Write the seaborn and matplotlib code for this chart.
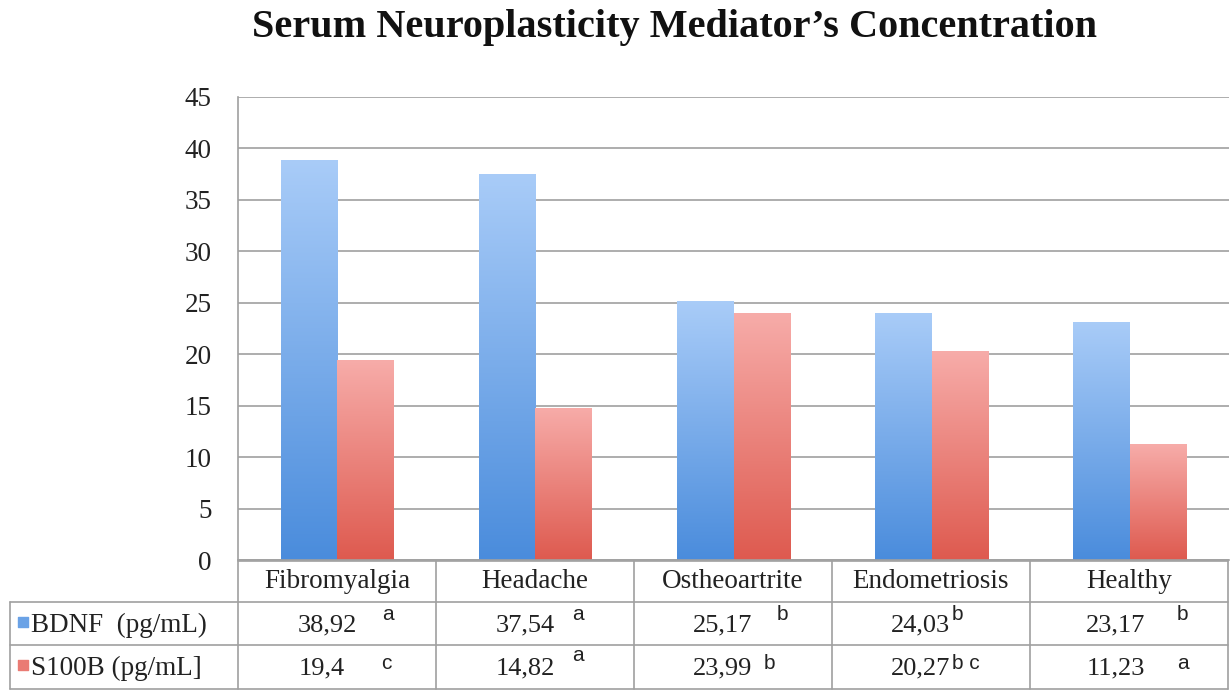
import numpy as np
import pandas as pd
import matplotlib
matplotlib.use("Agg")
import matplotlib.pyplot as plt
import seaborn as sns
from matplotlib.colors import LinearSegmentedColormap

categories = ["Fibromyalgia", "Headache", "Ostheoartrite", "Endometriosis", "Healthy"]
bdnf = [38.92, 37.54, 25.17, 24.03, 23.17]
s100b = [19.4, 14.82, 23.99, 20.27, 11.23]
bdnf_labels = ["38,92", "37,54", "25,17", "24,03", "23,17"]
s100b_labels = ["19,4", "14,82", "23,99", "20,27", "11,23"]
bdnf_sup = ["a", "a", "b", "b", "b"]
s100b_sup = ["c", "a", "b", "b c", "a"]
series_names = ["BDNF  (pg/mL)", "S100B (pg/mL]"]
yticks = [0, 5, 10, 15, 20, 25, 30, 35, 40, 45]

df = pd.DataFrame({
    "category": categories * 2,
    "value": bdnf + s100b,
    "series": [series_names[0]] * 5 + [series_names[1]] * 5,
})

sns.set_theme(style="white")
plt.rcParams["font.family"] = ["Liberation Serif", "DejaVu Serif"]

W, H = 1232, 692
fig = plt.figure(figsize=(W / 100, H / 100), dpi=100)
ax = fig.add_axes([238 / W, 1 - 560 / H, (1229 - 238) / W, (560 - 97) / H])

pal = {series_names[0]: "#7fb0ec", series_names[1]: "#ec8a84"}
sns.barplot(data=df, x="category", y="value", hue="series", palette=pal,
            width=0.57, ax=ax, legend=False, saturation=1, linewidth=0)

grads = [
    LinearSegmentedColormap.from_list("b", ["#4a8cdc", "#a9ccf8"]),
    LinearSegmentedColormap.from_list("r", ["#de5a4f", "#f7aca9"]),
]
ax.set_ylim(0, 45)
ax.set_xlim(-0.5, 4.5)
for ci, cont in enumerate(ax.containers):
    for p in cont.patches:
        x0, y0 = p.get_x(), p.get_y()
        w, h = p.get_width(), p.get_height()
        grad = np.linspace(0, 1, 256).reshape(-1, 1)
        im = ax.imshow(grad, cmap=grads[ci], aspect="auto", origin="lower",
                       extent=[x0, x0 + w, y0, y0 + h], zorder=p.get_zorder() + 0.1)
        im.set_clip_path(p)
ax.set_xlim(-0.5, 4.5)
ax.set_ylim(0, 45)

ax.set_yticks(yticks)
ax.set_yticklabels([str(v) for v in yticks], fontsize=19.5, color="#222222")
ax.tick_params(axis="y", length=0, pad=19)
ax.set_xticks([])
ax.set_xlabel("")
ax.set_ylabel("")
ax.yaxis.grid(True, color="#a0a0a0", linewidth=1.2)
ax.set_axisbelow(True)
for s in ["top", "right"]:
    ax.spines[s].set_visible(False)
ax.spines["left"].set_color("#a0a0a0")
ax.spines["bottom"].set_color("#a0a0a0")
ax.spines["left"].set_linewidth(1.2)
ax.spines["bottom"].set_linewidth(1.2)

fig.text(675 / W, 1 - 28 / H, "Serum Neuroplasticity Mediator\u2019s Concentration",
         ha="center", va="center", fontsize=29, fontweight="bold", color="#111111")

# table below axes
tax = fig.add_axes([0, 0, 1, 1 - 560 / H], facecolor="none")
tax.set_xlim(0, W)
tax.set_ylim(H, 560)
tax.axis("off")
lc = "#a0a0a0"
cols = [238, 436, 634, 832, 1030, 1228]
tax.plot([238, 1228], [561, 561], color=lc, lw=1.2)
for yy in [602, 645, 689]:
    tax.plot([10, 1228], [yy, yy], color=lc, lw=1.2)
tax.plot([10, 10], [602, 689], color=lc, lw=1.2)
for xx in cols:
    tax.plot([xx, xx], [561, 689], color=lc, lw=1.2)

def col_x(i):
    return 0.5 * (cols[i] + cols[i + 1])

for i, c in enumerate(categories):
    tax.text(col_x(i), 581, c, ha="center", va="center", fontsize=19.5, color="#222222")

num_dx = [[20, 20, 19, 19, 16], [8, 20, 19, 19, 16]]
sup_dx = [[45, 37, 44, 21, 48], [44, 37, 31, 21, 48]]
sup_dy = [[-11, -11, -11, -11, -11], [-5, -13, -5, -5, -5]]
rows_y = [625, 668]
for r, (labels, sups) in enumerate([(bdnf_labels, bdnf_sup), (s100b_labels, s100b_sup)]):
    for i in range(5):
        cx = col_x(i)
        tax.text(cx + num_dx[r][i], rows_y[r], labels[i], ha="right", va="center",
                 fontsize=19, color="#222222")
        tax.text(cx + sup_dx[r][i], rows_y[r] + sup_dy[r][i], sups[i], ha="left",
                 va="center", fontsize=15, color="#222222", family=["Liberation Sans"])

sq_cols = ["#6aa2e6", "#ea7b74"]
for r in range(2):
    tax.scatter([23], [rows_y[r] - 3], marker="s", s=55, color=sq_cols[r])
    tax.text(31, rows_y[r], series_names[r], ha="left", va="center", fontsize=19.5,
             color="#222222")

fig.savefig("out.png", dpi=100)
